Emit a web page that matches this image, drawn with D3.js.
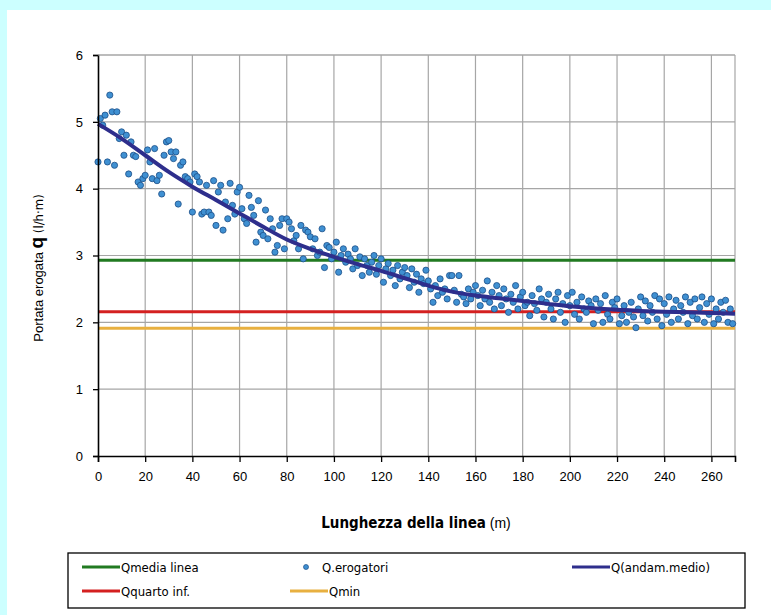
<!DOCTYPE html>
<html><head><meta charset="utf-8">
<script src="https://cdn.jsdelivr.net/npm/d3@7"></script>
<style>
body{margin:0;background:#ccffff;}
svg{display:block;}
</style></head>
<body><svg id="c" width="771" height="615"></svg>
<script>
// ---- data ----
const xTicks = [0,20,40,60,80,100,120,140,160,180,200,220,240,260];
const yTicks = [0,1,2,3,4,5,6];
// Q.erogatori: one dispenser per metre, starting at 0 m
const qErogatori = [
4.40,5.05,4.95,5.10,4.40,5.40,5.15,4.35,5.15,4.75,
4.85,4.50,4.80,4.22,4.70,4.50,4.48,4.10,4.05,4.15,
4.20,4.58,4.40,4.15,4.60,4.12,4.20,3.92,4.50,4.70,
4.72,4.55,4.45,4.55,3.77,4.35,4.40,4.18,4.15,4.10,
3.65,4.22,4.18,4.10,3.62,3.65,4.05,3.65,3.60,4.12,
3.45,3.95,4.05,3.38,3.80,3.55,4.08,3.75,3.62,3.95,
4.02,3.70,3.55,3.48,3.90,3.72,3.60,3.20,3.82,3.35,
3.30,3.68,3.25,3.55,3.40,3.05,3.15,3.45,3.55,3.10,
3.55,3.50,3.40,3.22,3.30,3.10,3.45,2.95,3.38,3.35,
3.28,3.10,3.25,3.00,3.05,3.40,2.82,3.15,3.12,2.95,
3.05,3.20,2.75,3.00,3.10,2.90,3.02,2.95,2.80,3.10,
2.85,2.98,2.70,2.95,2.85,2.75,2.90,3.00,2.72,2.85,
2.95,2.60,2.80,2.88,2.70,2.78,2.55,2.85,2.65,2.75,
2.82,2.70,2.52,2.80,2.60,2.72,2.45,2.65,2.58,2.78,
2.62,2.50,2.30,2.55,2.40,2.65,2.45,2.50,2.35,2.70,
2.70,2.48,2.30,2.70,2.42,2.38,2.28,2.50,2.35,2.45,
2.55,2.40,2.25,2.48,2.35,2.62,2.30,2.45,2.20,2.55,
2.40,2.25,2.50,2.35,2.15,2.42,2.30,2.55,2.20,2.38,
2.45,2.25,2.30,2.10,2.40,2.28,2.18,2.50,2.35,2.08,
2.30,2.42,2.20,2.05,2.35,2.45,2.15,2.28,2.00,2.40,
2.25,2.45,2.12,2.30,2.05,2.38,2.20,2.15,2.32,2.25,
1.98,2.35,2.18,2.28,2.00,2.40,2.12,2.05,2.30,2.22,
2.35,1.98,2.10,2.25,2.00,2.15,2.30,2.08,1.92,2.20,
2.38,2.10,2.32,2.02,2.25,2.15,2.40,2.05,2.35,1.95,
2.28,2.12,2.38,2.00,2.20,2.33,2.05,2.25,2.15,2.38,
1.98,2.30,2.10,2.35,2.05,2.22,2.38,2.00,2.28,2.12,
2.35,1.98,2.20,2.05,2.30,2.15,2.33,2.00,2.20,1.98
];
const trendX = [0,10,20,30,40,50,60,70,80,90,100,110,120,130,140,150,160,170,180,190,200,210,220,230,240,250,260,270];
const trendQ = [4.97,4.75,4.50,4.25,4.03,3.83,3.63,3.43,3.24,3.10,2.98,2.87,2.77,2.66,2.55,2.46,2.40,2.36,2.32,2.28,2.24,2.21,2.19,2.17,2.16,2.15,2.14,2.13];
const qMediaLinea = 2.93;
const qQuartoInf = 2.16;
const qMin = 1.91;
const legendLabels = ["Qmedia linea","Q.erogatori","Q(andam.medio)","Qquarto inf.","Qmin"];

// ---- drawing ----
const svg = d3.select("#c");
const C = {green:"#217a21", red:"#d42020", orange:"#e8b040", navy:"#2e2e8c", dot:"#3f90d2", dotStroke:"#1d4f88", grid:"#a6a6a6"};
const narrow = "'DejaVu Sans Condensed','DejaVu Sans',sans-serif";
const regular = "'Liberation Sans',Arial,sans-serif";

svg.append("rect").attr("x",7).attr("y",10).attr("width",771).attr("height",615).attr("fill","#ffffff");

const x = d3.scaleLinear().domain([0,270]).range([98,735]);
const y = d3.scaleLinear().domain([0,6]).range([456,55]);

const g = svg.append("g");
// grid
g.selectAll(".vg").data(xTicks.filter(d=>d>0)).join("line")
  .attr("x1",d=>x(d)).attr("x2",d=>x(d)).attr("y1",y(6)).attr("y2",y(0))
  .attr("stroke",C.grid).attr("stroke-width",1.2);
g.selectAll(".hg").data(yTicks.filter(d=>d>0)).join("line")
  .attr("x1",x(0)).attr("x2",x(270)).attr("y1",d=>y(d)).attr("y2",d=>y(d))
  .attr("stroke",C.grid).attr("stroke-width",1.2);
g.append("line").attr("x1",x(270)).attr("x2",x(270)).attr("y1",y(6)).attr("y2",y(0))
  .attr("stroke",C.grid).attr("stroke-width",1.2);

// horizontal reference lines
[[qMediaLinea,C.green],[qQuartoInf,C.red],[qMin,C.orange]].forEach(([v,c])=>{
  g.append("line").attr("x1",x(0)).attr("x2",x(270)).attr("y1",y(v)).attr("y2",y(v))
   .attr("stroke",c).attr("stroke-width",3);
});

// points
g.selectAll(".pt").data(qErogatori).join("circle")
  .attr("cx",(d,i)=>x(i)).attr("cy",d=>y(d)).attr("r",3.1)
  .attr("fill",C.dot).attr("stroke",C.dotStroke).attr("stroke-width",0.8);

// trend
const line = d3.line().x(d=>x(d[0])).y(d=>y(d[1])).curve(d3.curveCatmullRom);
g.append("path").datum(trendX.map((v,i)=>[v,trendQ[i]])).attr("d",line)
  .attr("fill","none").attr("stroke",C.navy).attr("stroke-width",4);

// axes
const ax = svg.append("g").attr("transform",`translate(0,${y(0)})`)
  .call(d3.axisBottom(x).tickValues(xTicks).tickFormat(d3.format("d")).tickSize(6).tickPadding(10));
const ay = svg.append("g").attr("transform",`translate(${x(0)},0)`)
  .call(d3.axisLeft(y).tickValues(yTicks).tickFormat(d3.format("d")).tickSize(5).tickPadding(10));
[ax,ay].forEach(a=>{
  a.select(".domain").attr("stroke","#000").attr("stroke-width",1.6);
  a.selectAll(".tick line").attr("stroke","#000").attr("stroke-width",1.3);
  a.selectAll("text").attr("font-family",regular).attr("font-size",13).attr("fill","#000");
});
// top border gray
svg.append("line").attr("x1",x(0)).attr("x2",x(270)).attr("y1",y(6)).attr("y2",y(6)).attr("stroke",C.grid).attr("stroke-width",1.2);

// x title
const xt = svg.append("text").attr("x",416).attr("y",528).attr("text-anchor","middle")
  .attr("font-family",narrow).attr("font-size",15);
xt.append("tspan").attr("font-weight","bold").text("Lunghezza della linea");
xt.append("tspan").attr("font-size",14).attr("font-family",regular).text(" (m)");

// y title
const yt = svg.append("text").attr("transform","translate(43,268) rotate(-90)").attr("text-anchor","middle")
  .attr("font-family",regular).attr("font-size",13);
yt.append("tspan").text("Portata erogata ");
yt.append("tspan").attr("font-weight","bold").attr("font-size",19).text("q");
yt.append("tspan").attr("font-family",narrow).attr("font-size",13).text("  (l/h·m)");

// legend
const lg = svg.append("g");
lg.append("rect").attr("x",68).attr("y",553).attr("width",677).attr("height",55)
  .attr("fill","#fff").attr("stroke","#000").attr("stroke-width",1.3);
const items = [
  {t:legendLabels[0], type:"line", c:C.green, x:82, y:567},
  {t:legendLabels[1], type:"dot", c:C.dot, x:290, y:567},
  {t:legendLabels[2], type:"line", c:C.navy, x:572, y:567},
  {t:legendLabels[3], type:"line", c:C.red, x:82, y:591},
  {t:legendLabels[4], type:"line", c:C.orange, x:290, y:591}
];
items.forEach(it=>{
  if(it.type==="line"){
    lg.append("line").attr("x1",it.x).attr("x2",it.x+38).attr("y1",it.y).attr("y2",it.y)
      .attr("stroke",it.c).attr("stroke-width",3);
  } else {
    lg.append("circle").attr("cx",it.x+16).attr("cy",it.y).attr("r",2.5)
      .attr("fill",C.dot).attr("stroke",C.dotStroke).attr("stroke-width",0.7);
  }
  lg.append("text").attr("x",it.type==="dot"?it.x+32:it.x+39).attr("y",it.y+5)
    .attr("font-family",narrow).attr("font-size",13).text(it.t);
});
</script>
</body></html>
